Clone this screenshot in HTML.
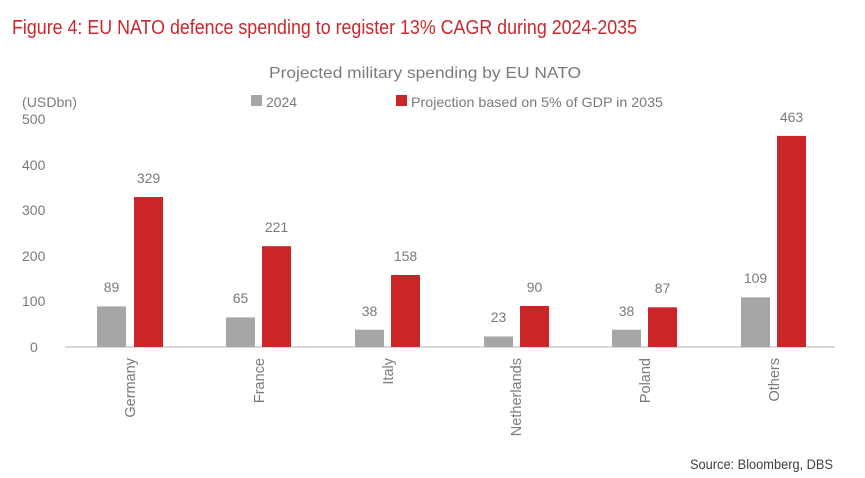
<!DOCTYPE html>
<html><head><meta charset="utf-8"><style>body{margin:0;background:#fff}svg{display:block}</style></head><body>
<svg width="865" height="478" xmlns="http://www.w3.org/2000/svg" font-family="Liberation Sans, sans-serif">
<rect width="865" height="478" fill="#fff"/>
<text x="12" y="34" font-size="20" fill="#c8282e" textLength="625" lengthAdjust="spacingAndGlyphs">Figure 4: EU NATO defence spending to register 13% CAGR during 2024-2035</text>
<text x="269" y="78" font-size="16" fill="#7a7a7a" textLength="312" lengthAdjust="spacingAndGlyphs">Projected military spending by EU NATO</text>
<g font-size="14" fill="#7a7a7a">
<text x="22" y="107" textLength="55" lengthAdjust="spacingAndGlyphs">(USDbn)</text>
<rect x="251" y="95" width="11" height="11" fill="#a6a6a6"/>
<text x="266" y="107" textLength="31" lengthAdjust="spacingAndGlyphs">2024</text>
<rect x="396" y="95" width="11" height="11" fill="#cc2529"/>
<text x="411" y="107" textLength="252" lengthAdjust="spacingAndGlyphs">Projection based on 5% of GDP in 2035</text>
<text x="22" y="124">500</text>
<text x="22" y="170">400</text>
<text x="22" y="215">300</text>
<text x="22" y="261">200</text>
<text x="22" y="306">100</text>
<text x="30" y="352">0</text>
</g>
<line x1="65" y1="347" x2="835" y2="347" stroke="#d9d9d9" stroke-width="2"/>
<g fill="#a6a6a6">
<rect x="97" y="306.4" width="29" height="40.6"/>
<rect x="226" y="317.4" width="29" height="29.6"/>
<rect x="355" y="329.7" width="29" height="17.3"/>
<rect x="484" y="336.5" width="29" height="10.5"/>
<rect x="612" y="329.7" width="29" height="17.3"/>
<rect x="741" y="297.3" width="29" height="49.7"/>
</g>
<g fill="#cc2529">
<rect x="134" y="197" width="29" height="150"/>
<rect x="262" y="246.2" width="29" height="100.8"/>
<rect x="391" y="275" width="29" height="72"/>
<rect x="520" y="306" width="29" height="41"/>
<rect x="648" y="307.3" width="29" height="39.7"/>
<rect x="777" y="135.9" width="29" height="211.1"/>
</g>
<g font-size="14" fill="#7a7a7a" text-anchor="middle">
<text x="111.5" y="292">89</text>
<text x="148.5" y="183">329</text>
<text x="240.5" y="303">65</text>
<text x="276.5" y="232">221</text>
<text x="369.5" y="316">38</text>
<text x="405.5" y="261">158</text>
<text x="498.5" y="322">23</text>
<text x="534.5" y="292">90</text>
<text x="626.5" y="316">38</text>
<text x="662.5" y="293">87</text>
<text x="755.5" y="283">109</text>
<text x="791.5" y="122">463</text>
</g>
<g font-size="14.5" fill="#7a7a7a" text-anchor="end">
<text transform="translate(135,358) rotate(-90)">Germany</text>
<text transform="translate(264,358) rotate(-90)">France</text>
<text transform="translate(393,358) rotate(-90)">Italy</text>
<text transform="translate(521,358) rotate(-90)">Netherlands</text>
<text transform="translate(650,358) rotate(-90)">Poland</text>
<text transform="translate(779,358) rotate(-90)">Others</text>
</g>
<text x="690" y="469" font-size="14" fill="#404040" textLength="143" lengthAdjust="spacingAndGlyphs">Source: Bloomberg, DBS</text>
</svg>
</body></html>
